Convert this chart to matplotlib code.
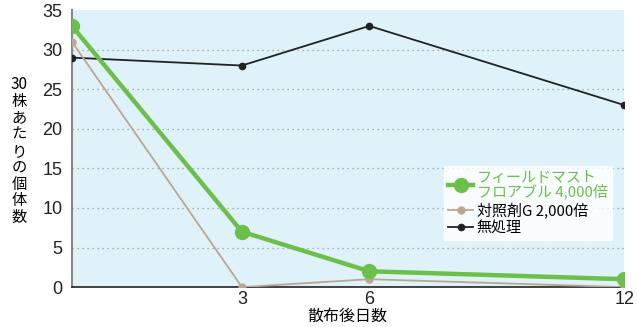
import matplotlib
matplotlib.use('Agg')
import matplotlib.pyplot as plt

plt.rcParams['font.family'] = ['Liberation Sans', 'Noto Sans CJK JP', 'DejaVu Sans']

# days after spraying (first point = before spraying)
days = [-1, 3, 6, 12]
tick_days = [3, 6, 12]
field_mast = [33, 7, 2, 1]
control_g = [31, 0, 1, 0]
untreated = [29, 28, 33, 23]

labels = ['フィールドマスト\nフロアブル 4,000倍', '対照剤G 2,000倍', '無処理']

fig = plt.figure(figsize=(6.37, 3.27), dpi=100)
ax = fig.add_axes([0.113, 0.122, 0.867, 0.847])
ax.set_facecolor('#dff1f9')

ax.plot(days, untreated, color='#222222', lw=1.3, marker='o', ms=4.5, label=labels[2], zorder=3)
ax.plot(days, control_g, color='#bba78f', lw=1.3, marker='o', ms=5, label=labels[1], zorder=4)
ax.plot(days, field_mast, color='#6cc04a', lw=3.2, marker='o', ms=10, label=labels[0], zorder=5)

ax.set_xlim(-1, 12)
ax.set_ylim(0, 35)
ax.set_xticks(tick_days)
ax.set_yticks(range(0, 36, 5))
ax.tick_params(length=0, labelsize=13, colors='#222222')
ax.tick_params(axis='x', pad=3)
ax.tick_params(axis='y', pad=7)
for y in range(5, 35, 5):
    ax.axhline(y, color='#999999', lw=0.9, ls=(0, (1, 3)), zorder=1)

for s in ['top', 'right']:
    ax.spines[s].set_visible(False)
ax.spines['left'].set_color('#888888')
ax.spines['left'].set_linewidth(1.5)
ax.spines['bottom'].set_color('#222222')
ax.spines['bottom'].set_linewidth(1.2)

fig.text(0.546, 0.008, '散布後日数', fontsize=11.5, ha='center', va='bottom',
         family=['Noto Sans CJK JP'])
fig.text(0.030, 0.538, '30\n株\nあ\nた\nり\nの\n個\n体\n数', fontsize=11,
         ha='center', va='center', linespacing=0.97, family=['Noto Sans CJK JP'])

h, l = ax.get_legend_handles_labels()
leg = ax.legend(h[::-1], l[::-1], loc='lower right', bbox_to_anchor=(0.978, 0.17),
                frameon=True, handlelength=1.65, handletextpad=0.25,
                labelspacing=0.2, borderpad=0.3, fancybox=False, borderaxespad=0,
                prop={'family': ['Noto Sans CJK JP'], 'size': 10.8})
leg.get_frame().set_edgecolor('white')
leg.get_frame().set_facecolor('white')
leg.get_texts()[0].set_color('#6cc04a')
leg.get_texts()[0].set_linespacing(0.95)

fig.savefig('out.png', dpi=100)
